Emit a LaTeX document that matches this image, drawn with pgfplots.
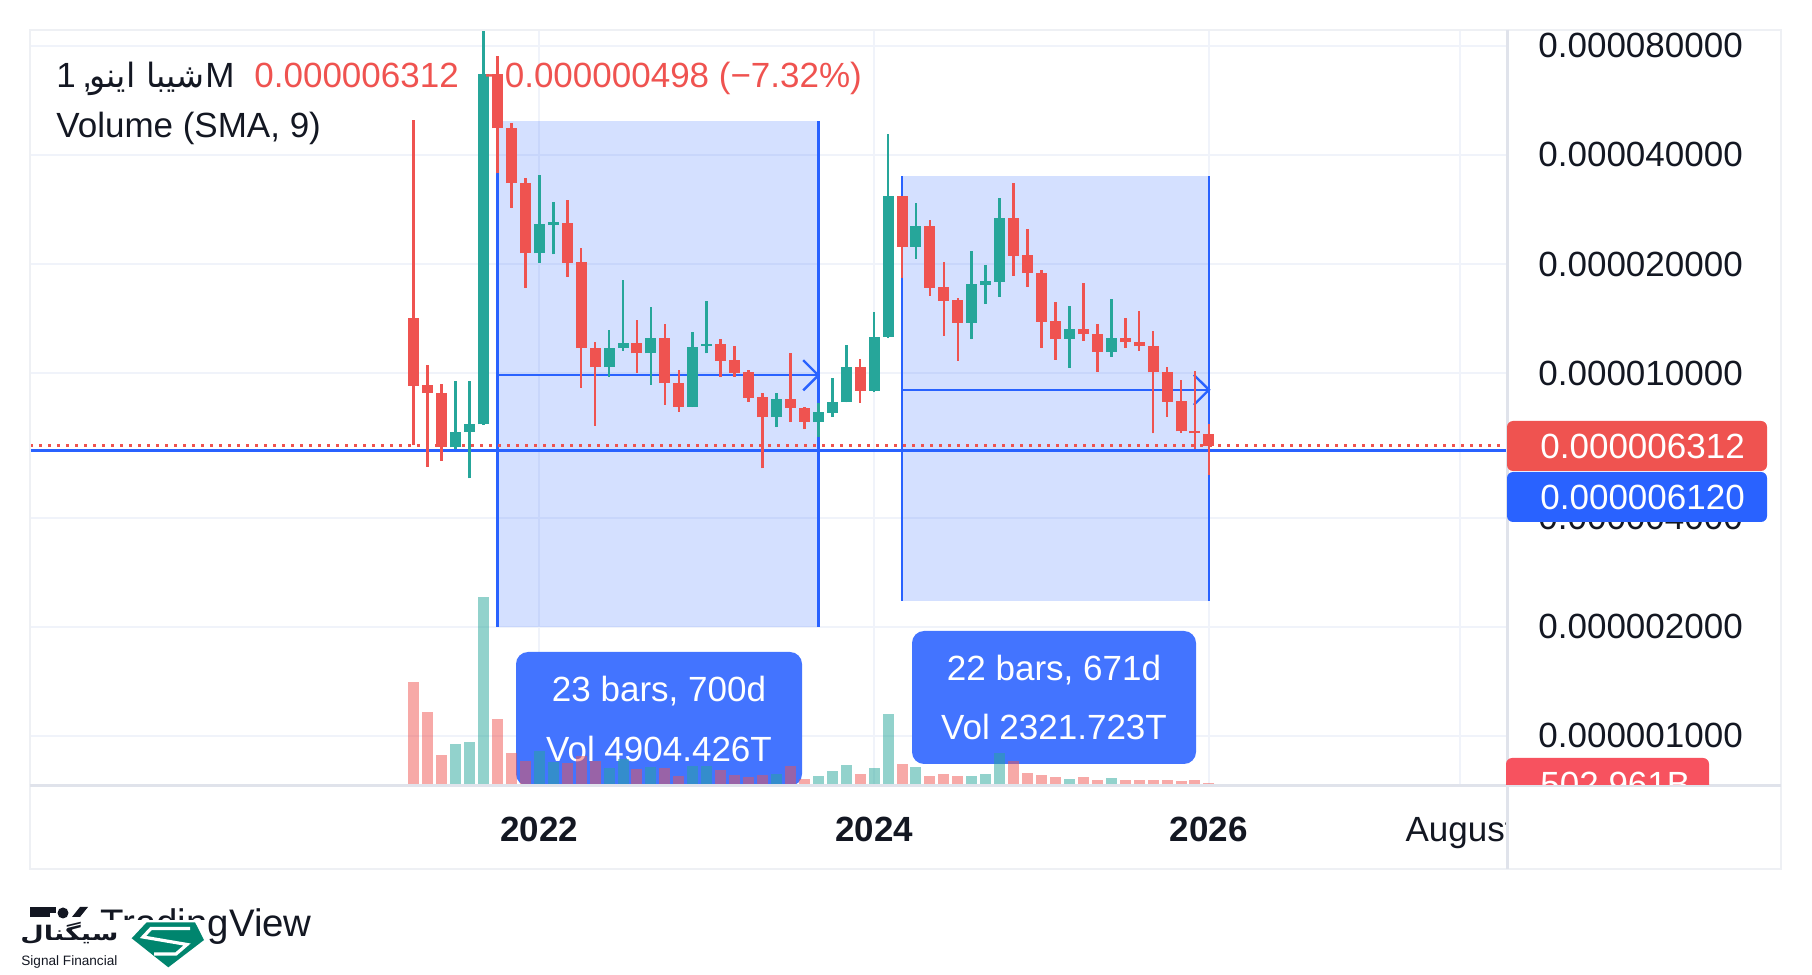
\documentclass[border=0pt]{standalone}
\usepackage{fontspec}
\setmainfont{Liberation Sans}
\newfontfamily\arabicfont[Script=Arabic]{DejaVu Sans}
\TeXXeTstate=1
\usepackage{graphicx}
\usepackage{pgfplots}
\usepackage{pgfplotstable}
\pgfplotsset{compat=1.18}
\definecolor{upc}{HTML}{26A69A}
\definecolor{dnc}{HTML}{EF5350}
\definecolor{bluec}{HTML}{2962FF}
\definecolor{gridc}{HTML}{F0F3FA}
\definecolor{framec}{HTML}{E0E3EB}
\definecolor{outerc}{HTML}{EEF0F4}
\definecolor{textc}{HTML}{131722}
\definecolor{labelc}{HTML}{4374FF}
\definecolor{tagc}{HTML}{F7525F}
\definecolor{logoc}{HTML}{00856E}
\newcommand\fs{\fontsize{17.5pt}{21pt}\selectfont}

% monthly candles (prices in units of 1e-6); hl = high-low, body = |close-open|
\pgfplotstableread{
m o h l c hl body
-6 6.25 9.53 6.17 6.88 3.36 0.63
-5 6.88 9.53 5.13 7.23 4.40 0.35
-4 7.23 88.47 7.20 66.89 81.27 59.66
0 21.42 35.23 20.19 25.81 15.04 4.39
1 25.70 29.62 21.28 26.09 8.34 0.39
5 10.39 13.14 9.79 11.72 3.35 1.33
6 11.72 18.09 11.55 12.10 6.54 0.38
8 11.35 15.21 9.29 12.49 5.92 1.14
11 8.09 12.97 8.06 11.80 4.91 3.71
12 11.87 15.83 11.35 12.05 4.48 0.18
17 7.56 8.81 7.10 8.50 1.71 0.94
20 7.33 8.27 6.66 7.81 1.61 0.48
21 7.79 9.69 7.59 8.32 2.10 0.53
22 8.32 11.97 8.32 10.39 3.65 2.07
24 8.96 14.73 8.86 12.57 5.87 3.61
25 12.57 45.71 12.49 30.83 33.22 18.26
27 22.35 29.49 20.67 25.48 8.82 3.13
31 13.80 21.75 12.41 17.63 9.34 3.83
32 17.52 19.90 15.56 17.97 4.34 0.45
33 17.90 30.38 16.27 26.82 14.11 8.92
38 12.41 15.37 10.37 13.25 5.00 0.84
41 11.43 16.03 11.11 12.49 4.92 1.06
}\upcandles

\pgfplotstableread{
m o h l c hl body
-9 14.18 49.96 6.34 9.25 43.62 4.93
-8 9.29 10.54 5.53 8.81 5.01 0.48
-7 8.81 9.33 5.74 6.25 3.59 2.56
-3 66.89 75.0 35.6 47.37 39.4 19.52
-2 47.37 48.92 28.51 33.42 20.41 13.95
-1 33.42 34.49 17.16 21.42 17.33 12.00
2 25.97 30.06 18.47 20.19 11.59 5.78
3 20.23 22.12 9.13 11.72 12.99 8.51
4 11.72 12.18 7.17 10.39 5.01 1.33
7 12.10 14.03 10.04 11.35 3.99 0.75
9 12.49 13.68 8.18 9.39 5.50 3.10
10 9.39 10.21 7.84 8.09 2.37 1.30
13 12.05 12.41 9.75 10.84 2.66 1.21
14 10.88 11.90 9.79 10.04 2.11 0.84
15 10.11 10.21 8.35 8.57 1.86 1.54
16 8.59 8.81 5.47 7.56 3.34 1.03
18 8.50 11.40 7.33 8.01 4.07 0.49
19 8.01 8.06 7.01 7.36 1.05 0.65
23 10.39 10.93 8.30 8.96 2.63 1.43
26 30.83 30.83 18.36 22.35 12.47 8.48
28 25.48 26.48 16.34 17.23 10.14 8.25
29 17.30 20.28 12.70 15.86 7.58 1.44
30 15.93 16.17 10.84 13.80 5.33 2.13
34 26.82 33.49 18.59 21.11 14.90 5.71
35 21.20 25.00 17.34 18.87 7.66 2.33
36 18.87 19.27 11.72 13.88 7.55 4.99
37 13.94 15.76 10.88 12.41 4.88 1.53
39 13.25 17.78 12.30 12.81 5.48 0.44
40 12.84 13.68 10.11 11.43 3.57 1.41
42 12.49 14.24 11.72 12.18 2.52 0.31
43 12.18 14.85 11.55 11.85 3.30 0.33
44 11.90 13.08 6.83 10.06 6.25 1.84
45 10.06 10.43 7.59 8.35 2.84 1.71
46 8.39 9.55 6.86 6.91 2.69 1.48
47 6.94 10.17 6.19 6.83 3.98 0.11
48 6.81 7.25 5.24 6.312 2.01 0.498
}\dncandles

% volume (T), rising months
\pgfplotstableread{
m v
-6 403
-5 422
-4 1814
0 336
1 233
5 176
6 256
8 182
11 195
12 192
17 115
20 96
21 144
22 202
24 173
25 691
27 182
31 96
32 115
33 317
38 67
41 77
}\volup

% volume (T), falling months
\pgfplotstableread{
m v
-9 998
-8 710
-7 298
-3 643
-2 317
-1 240
2 221
3 291
4 240
7 160
9 176
10 99
13 154
14 106
15 84
16 106
18 192
19 67
23 115
26 211
28 96
29 115
30 96
34 240
35 125
36 106
37 86
39 86
40 58
42 58
43 58
44 58
45 58
46 48
47 58
48 24
}\voldn

\pgfplotsset{
  candle/.style 2 args={only marks, mark=none, mark size=0pt,
    mark options={draw=none, fill=none},
    error bars/.cd, y dir=plus, y explicit, error mark=none,
    error bar style={line width=#2, draw=#1, line cap=butt}},
}
\tikzset{px/.style={x=0.5pt,y=0.5pt,shift={(-15pt,-94.5pt)}}}

\begin{document}
\begin{tikzpicture}
\begin{scope}[px]
\path[use as bounding box] (0,0) rectangle (1812,975);
\end{scope}

% ---------- price pane ----------
\begin{axis}[
  anchor=south west, at={(0pt,0pt)},
  scale only axis, width=738.5pt, height=378pt,
  xmin=-36.51, xmax=69.37,
  ymode=log, ymin=0.7276, ymax=88.4,
  axis line style={draw=none}, major tick length=0pt,
  xtick={0,24,48,66},
  xticklabels={\textbf{2022},\textbf{2024},\textbf{2026},August},
  ytick={1,2,4,10,20,40,80},
  yticklabels={0.000001000,0.000002000,0.000004000,0.000010000,0.000020000,0.000040000,0.000080000},
  yticklabel pos=right,
  grid=major, major grid style={draw=gridc, line width=1pt},
  xticklabel style={font=\fs, text=textc, inner sep=0pt, anchor=north, yshift=-15.5pt},
  yticklabel style={font=\fs, text=textc, inner sep=0pt, anchor=west, xshift=15.5pt},
  clip=true]
% measurement boxes
\addplot[draw=none, fill=bluec, fill opacity=0.2] coordinates {(-3,2.0) (20,2.0) (20,49.6) (-3,49.6)};
\addplot[draw=none, fill=bluec, fill opacity=0.2] coordinates {(26,2.36) (48,2.36) (48,35.0) (26,35.0)};
\addplot[draw=bluec, line width=1.2pt] coordinates {(-3,2.0) (-3,49.6)};
\addplot[draw=bluec, line width=1.2pt] coordinates {(20,2.0) (20,49.6)};
\addplot[draw=bluec, line width=1.2pt] coordinates {(-3,9.87) (20,9.87)};
\addplot[draw=bluec, line width=1.2pt] coordinates {(18.92,10.86) (20,9.87) (18.92,8.97)};
\addplot[draw=bluec, line width=1.2pt] coordinates {(26,2.36) (26,35.0)};
\addplot[draw=bluec, line width=1.2pt] coordinates {(48,2.36) (48,35.0)};
\addplot[draw=bluec, line width=1.2pt] coordinates {(26,9.0) (48,9.0)};
\addplot[draw=bluec, line width=1.2pt] coordinates {(46.92,9.9) (48,9.0) (46.92,8.18)};
% horizontal lines
\addplot[draw=bluec, line width=1.2pt] coordinates {(-36.51,6.12) (69.37,6.12)};
\addplot[draw=dnc, line width=1.5pt, dash pattern=on 1.5pt off 3pt] coordinates {(-36.51,6.312) (69.37,6.312)};
% candles: wicks then bodies
\addplot[candle={upc}{1.3pt}] table[x=m, y=l, y error=hl]{\upcandles};
\addplot[candle={dnc}{1.3pt}] table[x=m, y=l, y error=hl]{\dncandles};
\addplot[candle={upc}{5.5pt}] table[x=m, y=o, y error=body]{\upcandles};
\addplot[candle={dnc}{5.5pt}] table[x=m, y=c, y error=body]{\dncandles};
\end{axis}

\begin{scope}[px]
% ---------- measurement labels ----------
\fill[labelc, rounded corners=6pt] (516,323) rectangle (802,189);
\node[anchor=base, text=white, font=\fs, inner sep=0pt] at (659,273) {23 bars, 700d};
\node[anchor=base, text=white, font=\fs, inner sep=0pt] at (659,213) {Vol 4904.426T};
\fill[labelc, rounded corners=6pt] (912,344) rectangle (1196,211);
\node[anchor=base, text=white, font=\fs, inner sep=0pt] at (1054,294) {22 bars, 671d};
\node[anchor=base, text=white, font=\fs, inner sep=0pt] at (1054,235) {Vol 2321.723T};
\end{scope}

% ---------- volume pane ----------
\begin{axis}[
  anchor=south west, at={(0pt,0pt)},
  scale only axis, width=738.5pt, height=378pt,
  xmin=-36.51, xmax=69.37, ymin=0, ymax=7257.6,
  hide axis, clip=true]
\addplot[ycomb, draw=upc, draw opacity=0.5, line width=5.5pt] table[x=m,y=v]{\volup};
\addplot[ycomb, draw=dnc, draw opacity=0.5, line width=5.5pt] table[x=m,y=v]{\voldn};
\end{axis}

\begin{scope}[px]
% ---------- legend ----------
\node[anchor=base west, inner sep=0pt, font=\fs, text=textc] at (56,887) {1};
\node[anchor=base west, inner sep=0pt, font=\fs, text=textc] at (82,887) {,};
\node[anchor=base east, inner sep=0pt, text=textc] at (205,887)
  {\resizebox{57.5pt}{!}{\arabicfont\fontsize{17.5pt}{21pt}\selectfont\beginR شیبا اینو\endR}};
\node[anchor=base west, inner sep=0pt, font=\fs, text=textc] at (205,887) {M};
\node[anchor=base west, inner sep=0pt, font=\fs, text=dnc] at (254,887) {0.000006312};
\node[anchor=base west, inner sep=0pt, font=\fs, text=dnc] at (484,887) {−0.000000498 (−7.32\%)};
\node[anchor=base west, inner sep=0pt, font=\fs, text=textc] at (56,837) {Volume (SMA, 9)};

% ---------- frame ----------
\fill[white] (1508.5,187.5) rectangle (1780,107);
\draw[outerc, line width=1pt] (30,945) rectangle (1781,106);
\draw[framec, line width=1.5pt] (1507,945) -- (1507,106);
\draw[framec, line width=1.5pt] (30,189) -- (1781,189);

% ---------- price tags ----------
\fill[dnc, rounded corners=3pt] (1507,554) rectangle (1767,504);
\node[anchor=west, inner sep=0pt, font=\fs, text=white] at (1540,529) {0.000006312};
\fill[bluec, rounded corners=3pt] (1507,503) rectangle (1767,453);
\node[anchor=west, inner sep=0pt, font=\fs, text=white] at (1540,478) {0.000006120};
\begin{scope}
\clip (1500,275) rectangle (1781,190);
\fill[tagc, rounded corners=3pt] (1506,217) rectangle (1709,167);
\node[anchor=west, inner sep=0pt, font=\fs, text=white] at (1540,191) {502.961B};
\end{scope}

% ---------- watermark ----------
\fill[textc] (30,68) rectangle (50,58);
\fill[textc] (50,68) rectangle (56,62);
\fill[textc] (63,62) circle (5.5);
\fill[textc] (72,58) -- (80,68) -- (88,68) -- (80,58) -- cycle;
\node[anchor=base west, inner sep=0pt, text=textc, font=\fontsize{19.2pt}{23pt}\selectfont] at (100,38) {TradingView};
\fill[white] (18,54.5) rectangle (206,0);
\node[anchor=south west, inner sep=0pt, text=textc] at (20,30)
  {\resizebox*{49pt}{11pt}{\arabicfont\bfseries\fontsize{14pt}{16pt}\selectfont\beginR سیگنال\endR}};
\node[anchor=base west, inner sep=0pt, text=textc, font=\fontsize{6.8pt}{8pt}\selectfont] at (21,10) {Signal Financial};
\fill[logoc] (146.7,52.7) -- (195,52.7) -- (204,35) -- (168.3,7.7) -- (131.7,36.7) -- cycle;
\draw[white, line width=1.6pt, line join=miter] (190,46.5) -- (151,46.5) -- (143,38) -- (187,30.5) -- (176,21) -- (154,21);
\end{scope}
\end{tikzpicture}
\end{document}
